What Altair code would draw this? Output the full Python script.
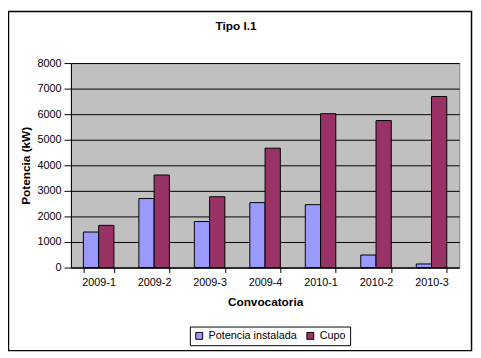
import altair as alt
import pandas as pd

categories = ["2009-1", "2009-2", "2009-3", "2009-4", "2010-1", "2010-2", "2010-3"]
potencia_instalada = [1390, 2700, 1800, 2540, 2460, 490, 140]
cupo = [1650, 3620, 2770, 4670, 6020, 5750, 6690]
series_names = ["Potencia instalada", "Cupo"]
series_colors = ["#9999FF", "#993366"]
chart_title = "Tipo I.1"

rows = []
for c, a, b in zip(categories, potencia_instalada, cupo):
    rows.append({"Convocatoria": c, "Serie": series_names[0], "Valor": a})
    rows.append({"Convocatoria": c, "Serie": series_names[1], "Valor": b})
df = pd.DataFrame(rows)

FONT = "Liberation Sans"

bars = alt.Chart(df).mark_bar(stroke="black", strokeWidth=1).encode(
    x=alt.X("Convocatoria:N", sort=categories,
            scale=alt.Scale(paddingInner=0.45, paddingOuter=0.225),
            axis=alt.Axis(title="Convocatoria", labelAngle=0, tickBand="extent",
                          tickSize=5, labelPadding=4, titlePadding=10,
                          domainColor="black", tickColor="black", grid=False)),
    xOffset=alt.XOffset("Serie:N", sort=series_names),
    y=alt.Y("Valor:Q", scale=alt.Scale(domain=[0, 8000], nice=False),
            axis=alt.Axis(title="Potencia (kW)", values=list(range(0, 8001, 1000)),
                          format="d", tickSize=7, labelPadding=3, titlePadding=5,
                          domainColor="black", tickColor="black",
                          grid=True, gridColor="black", gridOpacity=1)),
    color=alt.Color("Serie:N", sort=series_names,
                    scale=alt.Scale(domain=series_names, range=series_colors),
                    legend=alt.Legend(title=None, orient="none", direction="horizontal",
                                      legendX=121, legendY=268,
                                      strokeColor="black", padding=4,
                                      symbolType="square", symbolSize=49,
                                      symbolStrokeColor="black", symbolStrokeWidth=1,
                                      labelFontSize=11, labelFont=FONT,
                                      columnPadding=8, symbolOffset=0)),
)

border = alt.Chart(alt.Data(values=[{}])).mark_rect(
    fill=None, stroke="black", strokeWidth=1.5
).encode(
    x=alt.value(-63.5), x2=alt.value(407.5),
    y=alt.value(-52.5), y2=alt.value(292.5),
)

title = alt.Chart(alt.Data(values=[{"t": chart_title}])).mark_text(
    font=FONT, fontSize=12, fontWeight="bold", color="black",
    align="center", baseline="alphabetic"
).encode(
    text="t:N", x=alt.value(168), y=alt.value(-34),
)

chart = alt.layer(bars, border, title).properties(
    width=395, height=208,
    autosize=alt.AutoSizeParams(type="none"),
    padding={"left": 64, "top": 53, "right": 14, "bottom": 89},
    background="white",
).configure_view(
    fill="#C0C0C0", stroke="#808080", strokeWidth=1
).configure_axis(
    labelFont=FONT, titleFont=FONT, labelFontSize=11, titleFontSize=12,
    titleFontWeight="bold", labelColor="black", titleColor="black",
)

chart.save("out.html", embed_options={"renderer": "svg", "actions": False})
